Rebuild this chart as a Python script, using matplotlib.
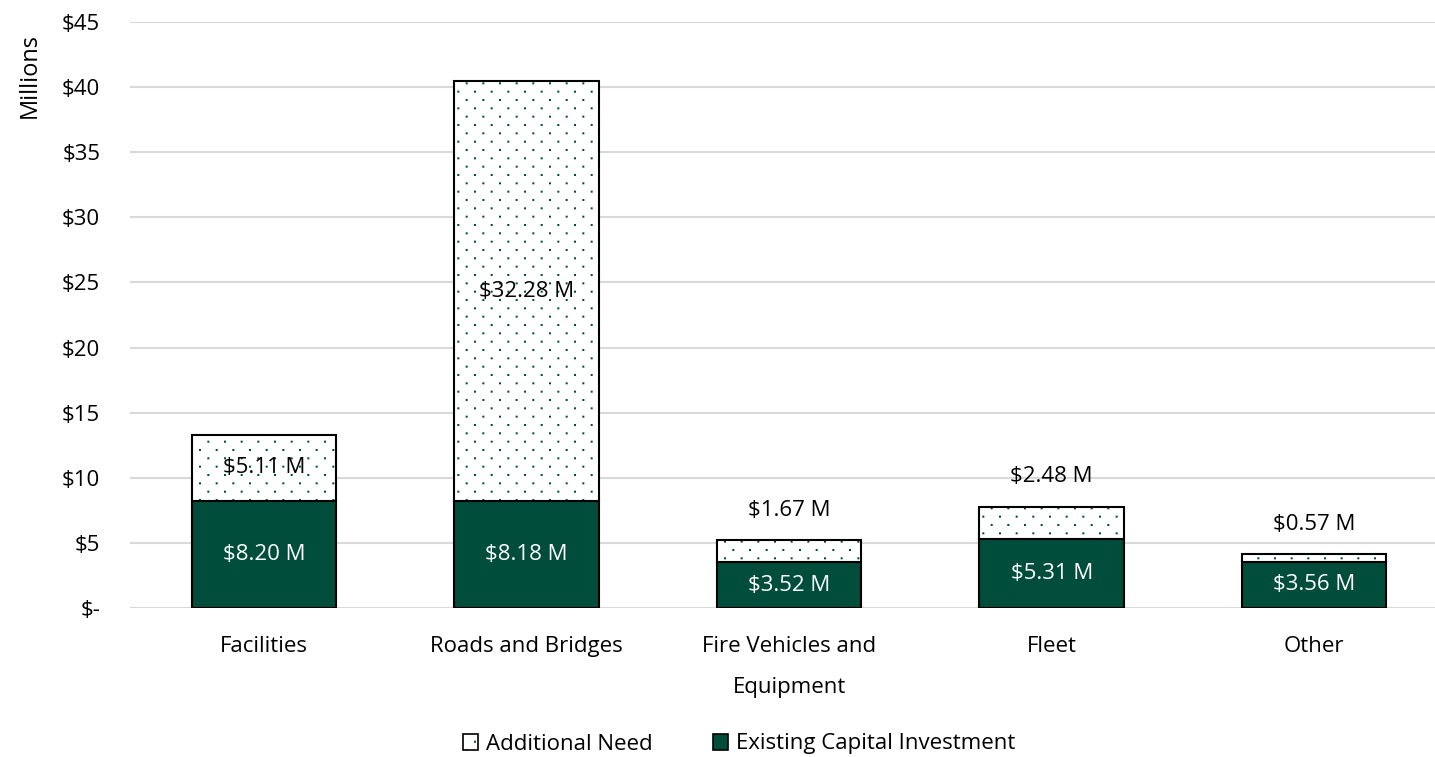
import numpy as np
import matplotlib
matplotlib.use('Agg')
import matplotlib.pyplot as plt
import matplotlib.hatch as mhatch
from matplotlib.path import Path
from matplotlib.patches import Patch

categories = ['Facilities', 'Roads and Bridges', 'Fire Vehicles and\nEquipment', 'Fleet', 'Other']
existing = [8.20, 8.18, 3.52, 5.31, 3.56]
additional = [5.11, 32.28, 1.67, 2.48, 0.57]
yticks = [0, 5, 10, 15, 20, 25, 30, 35, 40, 45]
ytick_labels = ['$-', '$5', '$10', '$15', '$20', '$25', '$30', '$35', '$40', '$45']

green = '#004D3B'


class SparseDots(mhatch.HatchPatternBase):
    """Tiny square dots, staggered rows packed twice as tight as columns."""

    def __init__(self, hatch, density):
        n = hatch.count('.') * density
        pts = []
        for r in range(2 * n + 1):
            y = r / (2 * n)
            if r % 2 == 0:
                pts += [(k / n, y) for k in range(n + 1)]
            else:
                pts += [((k + 0.5) / n, y) for k in range(n)]
        self.centers = np.array(pts).reshape(-1, 2)
        self.num_vertices = 5 * len(pts)

    def set_vertices_and_codes(self, vertices, codes):
        s = 0.003
        square = np.array([[-s, -s], [s, -s], [s, s], [-s, s], [-s, -s]])
        for i, c in enumerate(self.centers):
            vertices[5 * i:5 * i + 5] = square + c
            codes[5 * i:5 * i + 5] = [Path.MOVETO, Path.LINETO, Path.LINETO,
                                      Path.LINETO, Path.CLOSEPOLY]


mhatch._hatch_types = [t for t in mhatch._hatch_types
                       if t is not mhatch.SmallFilledCircles] + [SparseDots]

plt.rcParams['font.family'] = ['Open Sans', 'DejaVu Sans']
plt.rcParams['font.size'] = 16
plt.rcParams['hatch.linewidth'] = 1.0

fig = plt.figure(figsize=(14.35, 7.57), dpi=100)
ax = fig.add_axes([130 / 1435, 149 / 757, 1 - 130 / 1435, (608 - 22) / 757])

x = list(range(len(categories)))
width = 0.55

ax.bar(x, existing, width, color=green, edgecolor='black', linewidth=1.5, zorder=3)
# dotted fill for the extra need, outline drawn separately so the dots stay green
ax.bar(x, additional, width, bottom=existing, color='white', edgecolor=green,
       hatch='.', linewidth=0, zorder=3)
ax.bar(x, additional, width, bottom=existing, fill=False, edgecolor='black',
       linewidth=1.5, zorder=4)

for i in x:
    ax.text(i, existing[i] / 2, f'${existing[i]:.2f} M', ha='center', va='center',
            color='white', zorder=5)
    top = existing[i] + additional[i]
    if additional[i] > 4:
        ax.text(i, existing[i] + additional[i] / 2, f'${additional[i]:.2f} M',
                ha='center', va='center', color='black', zorder=5)
    else:
        ax.annotate(f'${additional[i]:.2f} M', (i, top), xytext=(0, 21.5),
                    textcoords='offset points', ha='center', va='center', zorder=5)

ax.set_xlim(-0.51, 4.46)
ax.set_ylim(0, 45)
ax.set_yticks(yticks)
ax.set_yticklabels(ytick_labels)
ax.set_xticks(x)
ax.set_xticklabels(categories, linespacing=2.25)
ax.tick_params(axis='both', length=0)
ax.tick_params(axis='y', pad=21.5)
ax.tick_params(axis='x', pad=20.5)
ax.yaxis.grid(True, color='#D9D9D9', linewidth=1.5, zorder=0)
ax.set_axisbelow(True)
for s in ax.spines.values():
    s.set_visible(False)

fig.text(30 / 1435, 1 - 76 / 757, 'Millions', rotation=90, ha='center', va='center', fontsize=17)

h_add = (Patch(facecolor='white', edgecolor=green, hatch='.', linewidth=0),
         Patch(fill=False, edgecolor='black', linewidth=1.2))
h_ex = Patch(facecolor=green, edgecolor='black', linewidth=1.2)
fig.legend([h_add, h_ex], ['Additional Need', 'Existing Capital Investment'],
           loc='center', bbox_to_anchor=(739 / 1435, 13 / 757), ncol=2, frameon=False,
           handlelength=0.7, handleheight=0.7, handletextpad=0.35, columnspacing=2.7)

fig.savefig('out.png', dpi=100)
